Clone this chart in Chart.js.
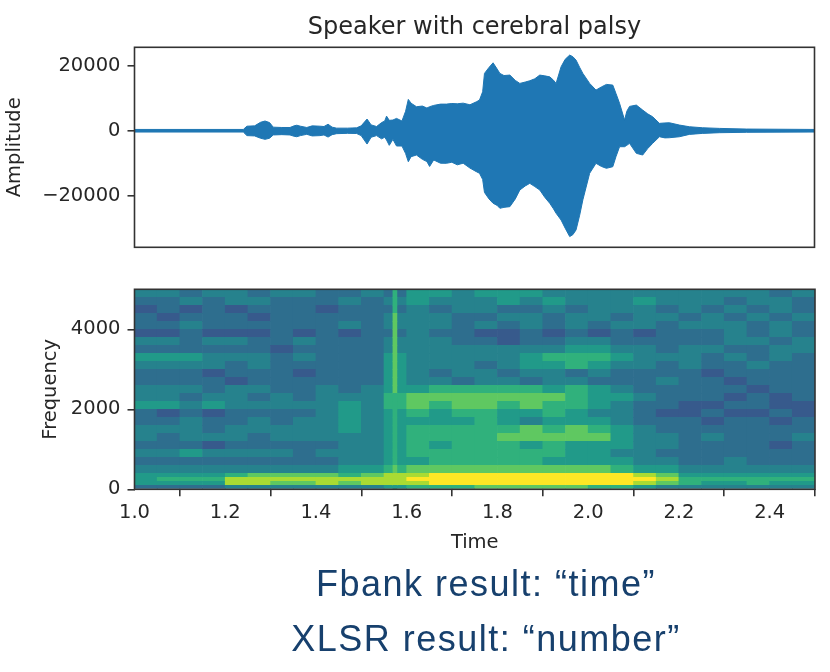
<!DOCTYPE html>
<html>
<head>
<meta charset="utf-8">
<script src="https://cdn.jsdelivr.net/npm/chart.js@4.4.1/dist/chart.umd.min.js"></script>
<style>
  html, body { margin: 0; padding: 0; background: #ffffff; }
  #wrap { position: relative; width: 830px; height: 672px; overflow: hidden; background: #fff; }
  #c1 { position: absolute; left: 0; top: 0; }
  #c2 { position: absolute; left: 0; top: 270px; }
  .cap { position: absolute; left: 186px; width: 600px; text-align: center;
         font-family: 'Liberation Sans', Arial, sans-serif; font-size: 36px; line-height: 36px;
         letter-spacing: 1.5px; color: #17406d; white-space: nowrap; }
</style>
</head>
<body>
<div id="wrap">
  <canvas id="c1" width="830" height="270"></canvas>
  <canvas id="c2" width="830" height="300"></canvas>
  <div class="cap" id="cap1" style="top:566px"></div>
  <div class="cap" id="cap2" style="top:621px"></div>
</div>
<script>
// ---------------- data ----------------
const chartTitle = 'Speaker with cerebral palsy';
const ampLabel = 'Amplitude';
const freqLabel = 'Frequency';
const timeLabel = 'Time';
const captions = ['Fbank result: \u201ctime\u201d', 'XLSR result: \u201cnumber\u201d'];

const timeTicks = [1.0, 1.2, 1.4, 1.6, 1.8, 2.0, 2.2, 2.4];
const timeTickLabels = ['1.0', '1.2', '1.4', '1.6', '1.8', '2.0', '2.2', '2.4'];
const ampTicks = [-20000, 0, 20000];
const freqTicks = [0, 2000, 4000];

// waveform envelope (time, upper amplitude, lower amplitude)
const envTimes = [
  1.000, 1.240, 1.248, 1.265, 1.278, 1.288, 1.298, 1.306, 1.325, 1.343,
  1.352, 1.358, 1.366, 1.380, 1.392, 1.409, 1.418, 1.427, 1.436, 1.446,
  1.470, 1.490, 1.500, 1.513, 1.522, 1.534, 1.545, 1.552, 1.556, 1.562,
  1.570, 1.578, 1.590, 1.598, 1.604, 1.610, 1.622, 1.635, 1.645, 1.651,
  1.660, 1.675, 1.688, 1.700, 1.712, 1.725, 1.740, 1.754, 1.761, 1.768,
  1.772, 1.782, 1.791, 1.800, 1.806, 1.815, 1.828, 1.840, 1.850, 1.862,
  1.872, 1.883, 1.894, 1.905, 1.916, 1.924, 1.930, 1.941, 1.950, 1.960,
  1.967, 1.974, 1.982, 1.989, 2.004, 2.018, 2.030, 2.041, 2.055, 2.062,
  2.070, 2.081, 2.086, 2.092, 2.107, 2.121, 2.132, 2.143, 2.158, 2.170,
  2.180, 2.202, 2.224, 2.253, 2.290, 2.350, 2.500
];
const envUpper = [
  400, 400, 1400, 1500, 2600, 3000, 2500, 1100, 1000, 1000,
  1500, 1700, 1400, 1000, 1500, 1400, 1300, 2000, 1100, 800,
  800, 900, 1500, 3600, 1800, 1300, 2500, 3000, 4500, 3200,
  3300, 3800, 3000, 6000, 9660, 8500, 7400, 7600, 7000, 7400,
  7800, 8200, 8200, 8400, 8300, 8500, 8000, 8900, 9450, 12000,
  17660, 19500, 20920, 19000, 17660, 17000, 17140, 15500, 14580, 15000,
  15400, 16000, 17140, 16900, 16600, 15600, 14580, 19700, 22000, 23300,
  22800, 21750, 19500, 17660, 14580, 12520, 13500, 14270, 14060, 11500,
  8430, 3300, 6000, 7500, 7900, 6370, 5200, 4300, 2270, 2400,
  2460, 1750, 1230, 920, 720, 520, 400
];
const envLower = [
  -400, -400, -1500, -1600, -2300, -2650, -2300, -1300, -1200, -1300,
  -1700, -1850, -1500, -1100, -1600, -1500, -1300, -1950, -1200, -900,
  -800, -850, -1500, -4100, -2000, -1500, -2500, -2000, -2860, -4500,
  -2650, -4700, -4700, -7000, -9540, -8000, -7480, -8800, -9500, -11000,
  -9000, -10000, -10030, -9700, -10500, -10000, -11500, -12600, -13100, -15000,
  -19000, -21000, -22340, -23000, -23880, -23600, -23380, -21000, -18250, -17000,
  -16200, -17200, -18250, -20500, -22340, -24000, -25420, -27500, -30000, -32600,
  -32000, -30550, -26000, -21300, -13100, -10030, -11000, -11570, -11080, -8000,
  -4920, -4920, -4500, -3880, -6960, -7480, -5500, -3880, -1850, -2200,
  -2150, -1850, -1120, -820, -600, -480, -400
];

// spectrogram: column centre times, row frequency edges (top to bottom), intensity levels 0-9
const specTimes = [
  1.025, 1.075, 1.125, 1.175, 1.225, 1.275, 1.325, 1.375, 1.425, 1.475,
  1.525, 1.575, 1.625, 1.675, 1.725, 1.775, 1.825, 1.875, 1.925, 1.975,
  2.025, 2.075, 2.125, 2.175, 2.225, 2.275, 2.325, 2.375, 2.425, 2.475
];
const specFreqEdges = [5000, 4800, 4600, 4400, 4200, 4000, 3800, 3600, 3400, 3200, 3000,
  2800, 2600, 2400, 2200, 2000, 1800, 1600, 1400, 1200, 1000, 800, 600, 400, 300, 200, 100, 0];
const specRows = [
  '44344 34433 43554 55544 44444 44434',
  '33434 43334 34544 45454 44544 43443',
  '23232 33323 33434 43343 44434 34343',
  '32333 23333 34443 34434 43443 43434',
  '33433 33334 34443 43434 34434 44343',
  '22322 23232 33433 22323 23233 34343',
  '44344 33433 34443 32334 43333 34434',
  '33333 32333 34444 44445 54434 43344',
  '55544 43433 35444 44566 65444 34343',
  '44443 43333 35444 34556 54434 33433',
  '33323 33233 35434 43443 43333 23333',
  '33332 33333 35443 44344 33343 32333',
  '44434 43343 45566 66656 54333 33233',
  '44344 34344 46777 77776 55433 32323',
  '55454 44445 46767 76766 54332 23322',
  '32323 33345 45656 65565 44322 32232',
  '33433 43445 45555 65455 54333 23323',
  '44434 44445 45666 66767 65433 33333',
  '43444 34444 45666 67777 75443 43334',
  '33323 33334 45656 66565 55443 33323',
  '44544 44344 45666 66665 54433 33333',
  '33333 33334 45566 66655 55443 34333',
  '44444 44445 56777 77777 76554 44444',
  '55556 77776 78899 99999 99875 55555',
  '56668 88888 88999 99999 99986 66666',
  '55558 87787 88899 99999 99876 55655',
  '33334 44444 45666 77777 66544 44444'
];
// thin vertical onset streak
const onsetTime = 1.574;
const onsetLevels = [6, 6, 6, 7, 7, 7, 7, 7, 7, 7, 7, 7, 7, 6, 6, 6, 6, 6, 6, 6, 6, 6, 7, 8, 8, 8, 5];

// ---------------- styling helpers ----------------
Chart.defaults.font.family = "'DejaVu Sans', sans-serif";
Chart.defaults.color = '#262626';
const BLUE = '#1f77b4';
const INK = '#262626';
const SPINE = '#333333';
const viridisStops = ['#440154', '#482475', '#414487', '#355f8d', '#2a788e', '#21918c',
                      '#22a884', '#44bf70', '#7ad151', '#bddf26', '#fde725'];
const levelPos = [0.10, 0.20, 0.28, 0.36, 0.44, 0.54, 0.64, 0.75, 0.87, 1.00];
function hex2rgb(h) { return [1, 3, 5].map(i => parseInt(h.substr(i, 2), 16)); }
function viridis(v) {
  const p = Math.max(0, Math.min(1, v)) * 10;
  const i = Math.min(9, Math.floor(p));
  const f = p - i;
  const a = hex2rgb(viridisStops[i]), b = hex2rgb(viridisStops[i + 1]);
  const c = a.map((x, k) => Math.round(x + (b[k] - x) * f));
  return 'rgb(' + c.join(',') + ')';
}
const levelColor = L => viridis(levelPos[L]);
const minusFmt = v => (v < 0 ? '\u2212' + Math.abs(v) : String(v));

const framePlugin = {
  id: 'frame',
  afterDatasetsDraw(chart) {
    const { ctx, chartArea: a } = chart;
    ctx.save();
    ctx.strokeStyle = SPINE;
    ctx.lineWidth = 1.6;
    ctx.strokeRect(a.left, a.top, a.right - a.left, a.bottom - a.top);
    ctx.restore();
  }
};
const tickGrid = { display: true, drawOnChartArea: false, drawTicks: true, tickLength: 7, color: SPINE, lineWidth: 1.6 };
const tickFont = { size: 19.5 };

// ---------------- waveform ----------------
new Chart(document.getElementById('c1'), {
  type: 'line',
  data: {
    datasets: [
      { data: envTimes.map((t, i) => ({ x: t, y: envUpper[i] })), borderColor: BLUE, backgroundColor: BLUE,
        borderWidth: 1, pointRadius: 0, fill: '+1', tension: 0 },
      { data: envTimes.map((t, i) => ({ x: t, y: envLower[i] })), borderColor: BLUE, backgroundColor: BLUE,
        borderWidth: 1, pointRadius: 0, fill: false, tension: 0 }
    ]
  },
  options: {
    responsive: false, animation: false, events: [],
    layout: { padding: { left: 0, right: 15.5, top: 0, bottom: 22.7 } },
    plugins: {
      legend: { display: false }, tooltip: { enabled: false },
      title: { display: true, text: chartTitle, fullSize: false, color: INK,
               font: { size: 24, weight: 'normal' }, padding: { top: 12.9, bottom: 5.6 } }
    },
    scales: {
      x: { type: 'linear', display: false, min: 1.0, max: 2.5 },
      y: {
        type: 'linear', min: -35900, max: 25700,
        afterBuildTicks: s => { s.ticks = ampTicks.map(v => ({ value: v })); },
        afterFit: s => { s.width = 134.5; s.paddingTop = 0; s.paddingBottom = 0; },
        ticks: { font: tickFont, color: INK, padding: 7, callback: v => minusFmt(v) },
        grid: tickGrid, border: { display: false },
        title: { display: true, text: ampLabel, color: INK, font: tickFont, padding: { top: 3.2, bottom: 0 } }
      }
    }
  },
  plugins: [framePlugin]
});

// ---------------- spectrogram ----------------
const cells = [], cellColors = [];
specRows.forEach((rowStr, r) => {
  const row = rowStr.replace(/ /g, '');
  for (let c = 0; c < specTimes.length; c++) {
    cells.push({ x: specTimes[c], y: [specFreqEdges[r + 1], specFreqEdges[r]] });
    cellColors.push(levelColor(+row[c]));
  }
});
const onsetCells = onsetLevels.map((L, r) => ({ x: onsetTime, y: [specFreqEdges[r + 1], specFreqEdges[r]] }));

new Chart(document.getElementById('c2'), {
  type: 'bar',
  data: {
    datasets: [
      { data: onsetCells, backgroundColor: onsetLevels.map(levelColor), borderWidth: 0, barThickness: 4,
        grouped: false, xAxisID: 'x2', yAxisID: 'y', order: 0 },
      { data: cells, backgroundColor: cellColors, borderWidth: 0, barPercentage: 1, categoryPercentage: 1,
        grouped: false, xAxisID: 'x', yAxisID: 'y', order: 1 }
    ]
  },
  options: {
    responsive: false, animation: false, events: [],
    layout: { padding: { left: 0, right: 15, top: 19.3, bottom: 10.7 } },
    plugins: { legend: { display: false }, tooltip: { enabled: false } },
    scales: {
      x: {
        type: 'linear', min: 1.0, max: 2.5, offset: false,
        afterBuildTicks: s => { s.ticks = timeTicks.map(v => ({ value: v })); },
        afterFit: s => { s.height = 70; s.paddingLeft = 0; s.paddingRight = 0; },
        ticks: { font: tickFont, color: INK, padding: 5, maxRotation: 0, autoSkip: false,
                 callback: (v, i) => timeTickLabels[i] },
        grid: tickGrid, border: { display: false },
        title: { display: true, text: timeLabel, color: INK, font: tickFont, padding: { top: 0, bottom: 4.5 } }
      },
      x2: { type: 'linear', axis: 'x', display: false, min: 1.0, max: 2.5, offset: false },
      y: {
        type: 'linear', min: 0, max: 5000,
        afterBuildTicks: s => { s.ticks = freqTicks.map(v => ({ value: v })); },
        afterFit: s => { s.width = 134.5; s.paddingTop = 0; s.paddingBottom = 0; },
        ticks: { font: tickFont, color: INK, padding: 7, callback: v => String(v) },
        grid: tickGrid, border: { display: false },
        title: { display: true, text: freqLabel, color: INK, font: tickFont, padding: { top: 39, bottom: 0 } }
      }
    }
  },
  plugins: [framePlugin]
});

document.getElementById('cap1').textContent = captions[0];
document.getElementById('cap2').textContent = captions[1];
</script>
</body>
</html>
